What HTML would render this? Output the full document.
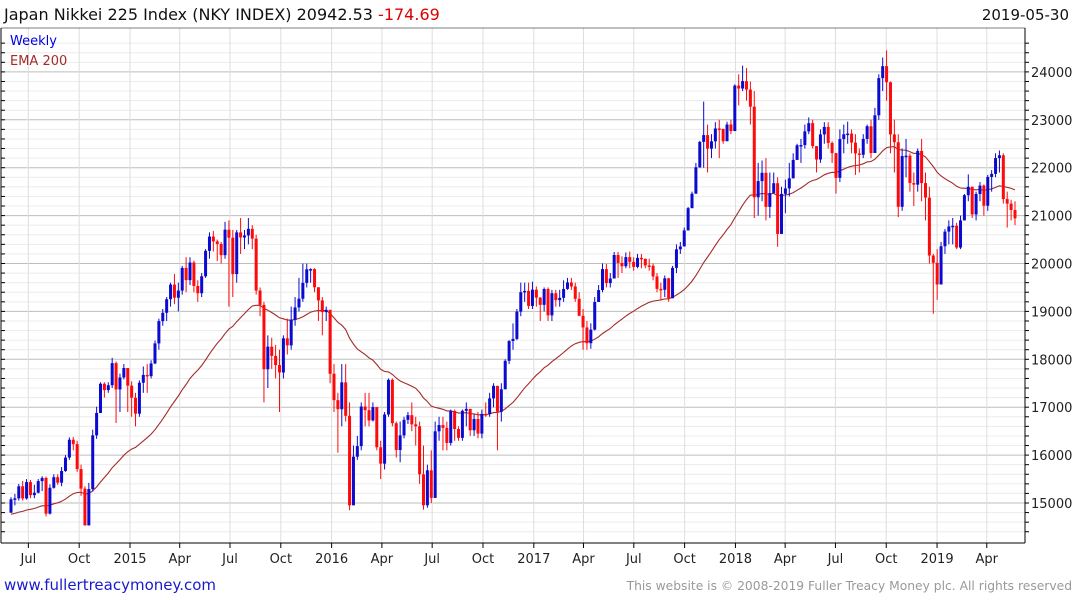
<!DOCTYPE html>
<html><head><meta charset="utf-8"><style>
body{margin:0;background:#fff;width:1075px;height:600px;overflow:hidden;font-family:"DejaVu Sans","Liberation Sans",sans-serif;}
svg{display:block}
</style></head><body>
<svg id="chart" width="1075" height="600" xmlns="http://www.w3.org/2000/svg">
<text x="4" y="20" font-size="16" fill="#111">Japan Nikkei 225 Index (NKY INDEX) 20942.53 <tspan fill="#e00000">-174.69</tspan></text>
<text x="1069" y="20" font-size="15" fill="#111" text-anchor="end">2019-05-30</text>
<g id="grid"></g><g id="ema"></g><g id="candles"></g><g id="axes"></g>
<text x="10" y="45" font-size="13" fill="#0000dd">Weekly</text>
<text x="10" y="65" font-size="13" fill="#a52a2a">EMA 200</text>
<text x="4" y="590" font-size="15" fill="#1a1acc">www.fullertreacymoney.com</text>
<text x="1072" y="590" font-size="12.3" fill="#999" text-anchor="end">This website is © 2008-2019 Fuller Treacy Money plc. All rights reserved</text>
</svg>
<script>
const closes=[15077,15097,15349,15095,15437,15164,15215,15457,15523,14778,15318,15539,15424,15668,15948,16321,16229,15708,15300,14532,15291,16413,16880,17490,17357,17459,17920,17371,17621,17818,
17450,17197,16864,17511,17674,17648,17913,18332,18797,18971,19254,19560,19286,19435,19908,19653,20020,19531,19379,19733,20264,20563,20461,20407,20174,20706,20539,19779,20650,20544,20585,20724,20519,19435,19136,17792,18264,18070,17880,17725,18438,18291,18825,19083,19265,19596,19879,19883,19504,19230,18986,19033,
17698,17147,16958,17518,16820,14952,15967,16188,17014,16938,16724,17002,16164,15821,16848,17572,16666,16106,16412,16736,16834,16642,16601,15599,14952,15682,15107,16497,16627,16569,16254,16920,16545,16360,16925,16965,16519,16754,16449,16860,16856,17184,17446,16905,17374,17968,18381,18426,18996,19401,19428,19114,
19454,19287,19137,19467,18918,19379,19235,19283,19469,19605,19521,19263,18909,18665,18336,18620,19197,19445,19883,19591,19687,20177,20013,19943,20133,20033,19929,20118,20099,19959,19952,19730,19470,19452,19691,19275,19909,20296,20356,20690,21155,21457,22008,22539,22681,22397,22551,22819,22811,22553,22902,22765,
23714,23653,23808,23631,23274,21383,21720,21893,21182,21469,21676,20617,21454,21568,21778,22163,22468,22473,22758,22930,22451,22171,22695,22851,22517,22305,21788,22597,22698,22712,22525,22298,22270,22601,22865,22307,23094,23870,24120,23784,22694,22532,21184,22244,22250,21680,21646,22351,21679,21375,20166,20015,
19562,20360,20666,20774,20788,20333,20900,21426,21603,21025,21451,21627,21206,21807,21871,22200,22259,21345,21250,21117,20943];
const highs=[15120,15190,15400,15460,15500,15480,15380,15500,15560,15550,15390,15600,15600,15750,16000,16370,16380,16300,15800,15350,15420,16530,17010,17520,17520,17520,18030,17950,17700,17900,
17550,17540,17300,17560,17850,17900,17980,18390,18850,19050,19300,19600,19780,19600,19950,20130,20130,20060,19650,19800,20300,20650,20680,20500,20450,20870,20900,20700,20700,20950,20700,20950,20800,20600,19500,19200,18500,18450,18300,18200,18500,18850,19100,19300,19700,20000,20000,19900,19900,19500,19300,19100,
18950,17900,17300,17900,17900,17100,16200,16400,17100,17300,17300,17100,17000,16300,16900,17600,17600,16700,16700,16800,16900,17100,16800,16700,16200,15800,16100,16700,16800,16800,16700,16950,16950,16600,16950,17100,16950,16850,16900,16950,17100,17300,17500,17400,17500,18000,18400,18750,19050,19600,19600,19600,
19620,19520,19300,19500,19500,19450,19450,19450,19650,19700,19700,19600,19400,19050,18800,18750,19300,19550,20000,19990,19800,20240,20240,20150,20230,20250,20130,20200,20200,20100,20100,20000,19800,19600,19750,19700,19950,20400,20450,20750,21180,21500,22100,22560,23380,22900,22700,22950,23000,22800,22960,23000,
23740,23950,24130,24080,23800,23600,22100,22150,22200,21900,21900,21800,21600,21750,22100,22300,22500,22600,22900,23050,23000,22450,22800,22950,22950,22550,22300,22800,22900,22960,22800,22700,22400,22700,22900,23000,23250,23950,24300,24450,23800,23000,22700,22400,22600,22300,21900,22400,22600,21900,21600,20200,
20300,20450,20720,20900,20950,20850,21000,21450,21860,21600,21500,21700,21650,21850,21950,22300,22360,22300,21500,21330,21300];
const lows=[14790,14950,15050,15050,15070,15100,15100,15200,15250,14720,14760,15300,15380,15350,15650,15900,16100,15650,15150,14530,14800,15240,16340,16880,17200,17300,17400,16670,16900,17580,
16900,16800,16600,16800,17300,17300,17600,17900,18200,18700,18800,19100,19150,19000,19350,19400,19550,19400,19200,19300,19700,20100,20250,20050,20000,20100,19100,19300,19600,20200,20300,20400,20300,19350,18900,17100,17400,17800,17600,16900,17600,18100,18200,18700,19000,19200,19500,19600,19400,18800,18500,18800,
17500,16900,16050,16600,16700,14850,15100,15900,16100,16600,16600,16700,16100,15500,15700,16800,16600,15950,15850,16350,16650,16500,16200,15400,14860,14900,15000,15200,16300,16100,16100,16200,16300,16300,16300,16600,16400,16400,16350,16350,16800,16800,17000,16100,16700,17400,17900,18200,18400,18900,19200,19050,
19050,19100,18800,19000,18800,18800,19100,19100,19200,19450,19450,19200,18900,18200,18200,18220,18600,19200,19400,19500,19500,19700,19700,19800,19900,19900,19850,19900,19900,19900,19850,19650,19400,19240,19300,19200,19300,19800,20200,20400,20700,21200,21500,22000,22000,21900,22200,22400,22200,22500,22600,22700,
23000,23300,23600,23400,22900,20950,21000,21300,20900,20950,21500,20350,20620,21050,21400,21800,22200,22100,22400,22700,22400,21900,22100,22500,22400,22100,21460,21700,22300,22500,22300,21850,21900,22200,22500,22200,22350,23000,23600,23400,22300,21900,20970,21100,21800,21500,21200,21500,21300,20900,20000,18950,
19240,19700,20200,20400,20400,20300,20300,20900,21300,20950,20900,21300,21000,21100,21500,21800,21900,21250,20750,20900,20800];
const yTicks=[15000,16000,17000,18000,19000,20000,21000,22000,23000,24000];
const xTickDates=['2014-07-01','2014-10-01','2015-01-01','2015-04-01','2015-07-01','2015-10-01','2016-01-01','2016-04-01','2016-07-01','2016-10-01','2017-01-01','2017-04-01','2017-07-01','2017-10-01','2018-01-01','2018-04-01','2018-07-01','2018-10-01','2019-01-01','2019-04-01'];
const xTickLabels=['Jul','Oct','2015','Apr','Jul','Oct','2016','Apr','Jul','Oct','2017','Apr','Jul','Oct','2018','Apr','Jul','Oct','2019','Apr'];
const firstOpen=14800, emaSeed=14750;

const NS='http://www.w3.org/2000/svg';
const L=1,R=1025,T=28,B=543;
function y(v){return 503-(v-15000)*0.0479;}
function xi(i){return 11+i*(1004/(closes.length-1));}
function xd(s){const d=(new Date(s)-new Date('2015-01-01'))/86400000;return 130+d*0.5524;}
function mk(tag,attrs,parent){const e=document.createElementNS(NS,tag);for(const k in attrs)e.setAttribute(k,attrs[k]);parent.appendChild(e);return e;}
const grid=document.getElementById('grid'),axes=document.getElementById('axes'),cg=document.getElementById('candles'),eg=document.getElementById('ema');
mk('rect',{x:L,y:T,width:R-L,height:B-T,fill:'#fff'},grid);
for(let v=14400;v<=24600;v+=200){const yy=y(v);if(yy<T||yy>B)continue;
 const l=mk('line',{x1:L,x2:R,y1:yy,y2:yy,stroke:v%1000===0?'#bdbdbd':'#ececec','stroke-width':1},grid);
 
 
 mk('line',{x1:R,x2:R+4,y1:yy,y2:yy,stroke:'#000'},axes);
 mk('line',{x1:L,x2:L+4,y1:yy,y2:yy,stroke:'#000'},axes);}
xTickDates.forEach((d,k)=>{const xx=xd(d);
 const l=mk('line',{x1:xx,x2:xx,y1:T,y2:B,stroke:'#dedede'},grid);
 
 
 mk('line',{x1:xx,x2:xx,y1:B,y2:B+5,stroke:'#000'},axes);
 const t=mk('text',{x:xx,y:563,'font-size':13,fill:'#222','text-anchor':'middle'},axes);t.textContent=xTickLabels[k];
 
 });
yTicks.forEach(v=>{const t=mk('text',{x:1031,y:y(v)+5,'font-size':13,fill:'#222'},axes);t.textContent=v;
 
 });
mk('line',{x1:R,x2:R,y1:T,y2:B,stroke:'#000'},axes);
mk('line',{x1:L,x2:R,y1:B,y2:B,stroke:'#000'},axes);
mk('line',{x1:L,x2:L,y1:T,y2:B,stroke:'#000'},axes);
mk('line',{x1:L,x2:R,y1:T,y2:T,stroke:'#000','stroke-width':0.6},axes);
let e=emaSeed,pts=[];const a=2/41;
closes.forEach((c,i)=>{e=e+a*(c-e);pts.push(xi(i).toFixed(1)+','+y(e).toFixed(1));});
const pl=mk('polyline',{points:pts.join(' '),fill:'none',stroke:'#a52a2a','stroke-width':1.1},eg);


closes.forEach((c,i)=>{const o=i===0?firstOpen:closes[i-1];const up=c>=o;const col=up?'#0a0ad0':'#ff0a0a';
 const hi=Math.max(highs[i]!==undefined?highs[i]:c,o,c),lo=Math.min(lows[i]!==undefined?lows[i]:c,o,c);
 const g=mk('g',{},cg);
 
 
 const xx=xi(i);
 mk('line',{x1:xx,x2:xx,y1:y(hi),y2:y(lo),stroke:col,'stroke-width':1},g);
 const top=y(Math.max(o,c)),bh=Math.max(1.5,y(Math.min(o,c))-top);
 mk('rect',{x:xx-1.5,y:top,width:3,height:bh,fill:col},g);});
</script>
</body></html>
